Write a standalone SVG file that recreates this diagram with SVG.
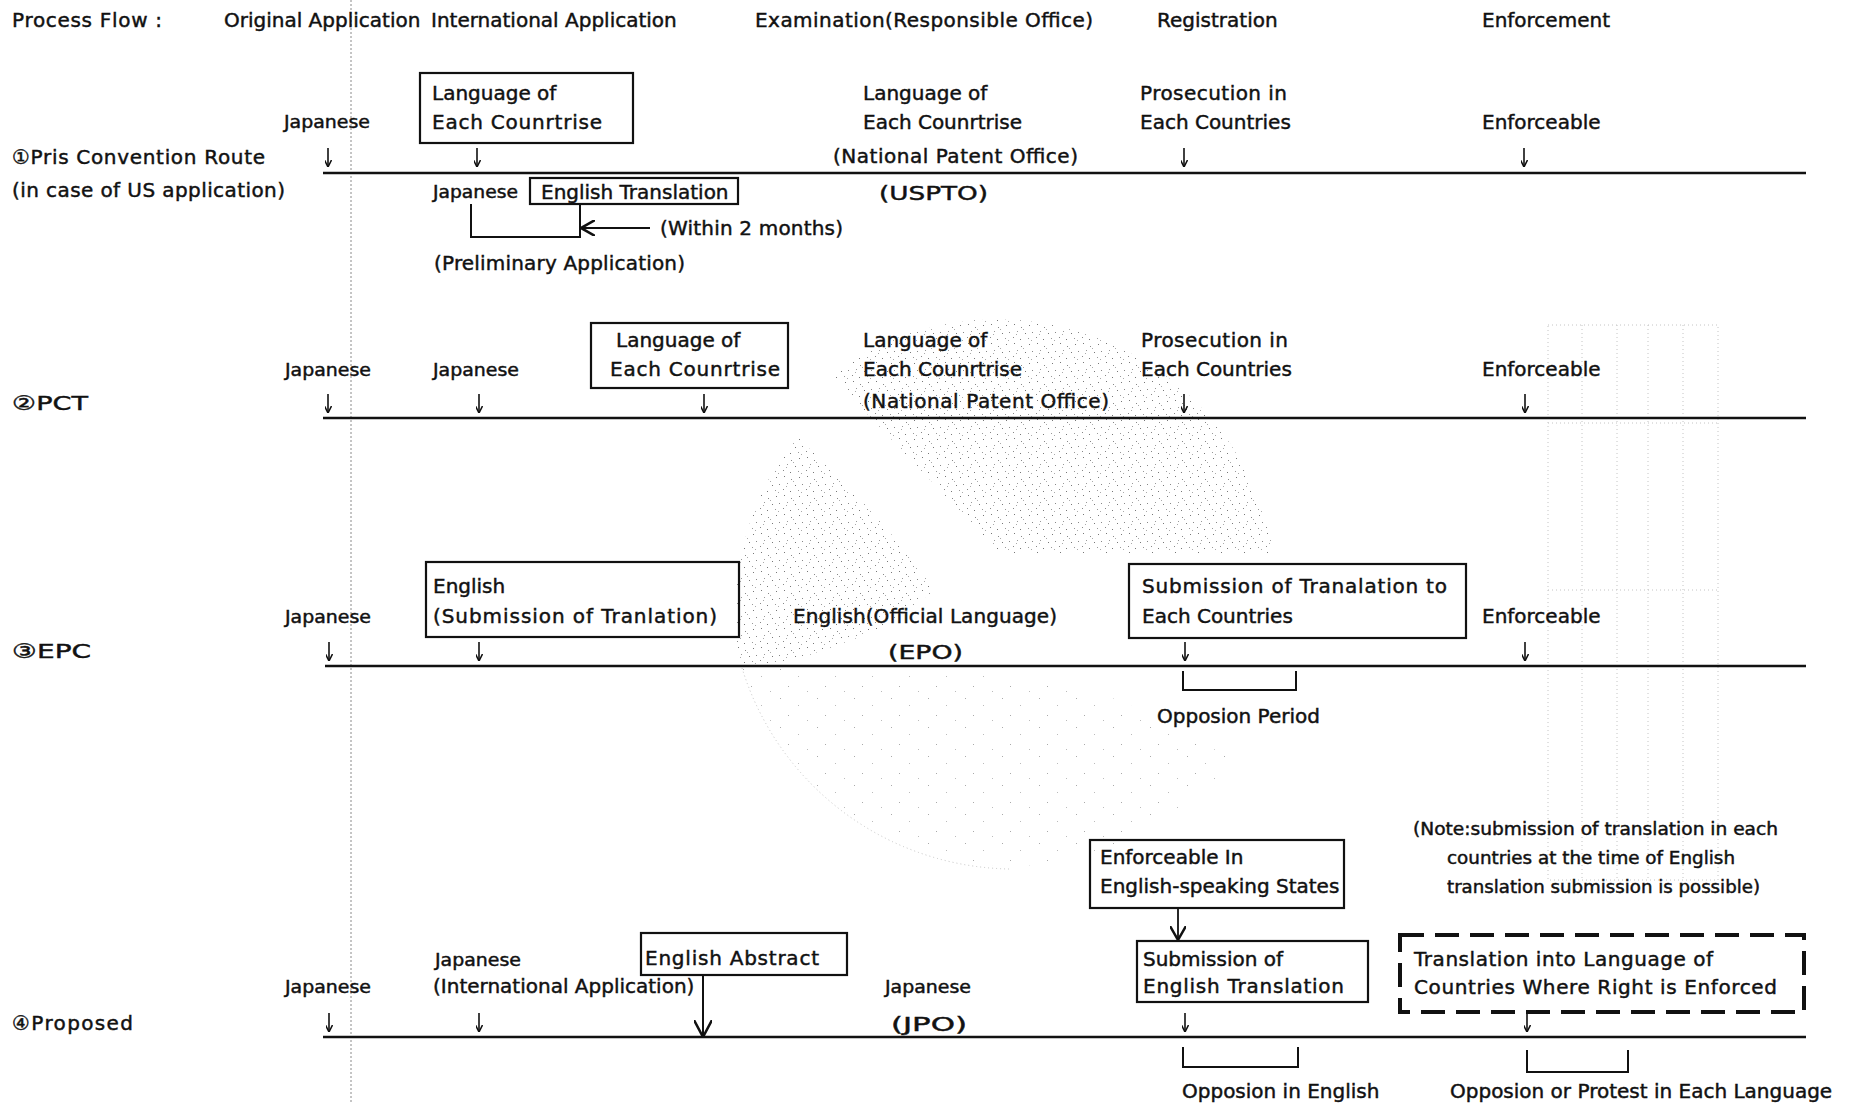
<svg xmlns="http://www.w3.org/2000/svg" width="1856" height="1104" viewBox="0 0 1856 1104">
  <style>
    text { font-family: "DejaVu Sans", "Noto Sans CJK JP", sans-serif; font-size: 20px; fill: #111; stroke: #111; stroke-width: 0.45; }
    .sm { font-size: 17px; }
    .box { fill: none; stroke: #111; stroke-width: 2.2; }
    .dbox { fill: none; stroke: #111; stroke-width: 4; stroke-dasharray: 24 11; }
    .tl { stroke: #111; stroke-width: 2.6; fill: none; }
    .arr { stroke: #111; stroke-width: 1.6; fill: none; marker-end: url(#tip); }
    .arr2 { stroke: #111; stroke-width: 1.8; fill: none; marker-end: url(#tipMid); }
    .arr3 { stroke: #111; stroke-width: 2; fill: none; marker-end: url(#tipBig); }
    .brk { stroke: #111; stroke-width: 2; fill: none; }
    .guide { stroke: #8a8a8a; stroke-width: 1; stroke-dasharray: 2 2; }
    .ghost { fill: none; stroke: #c4c4c4; stroke-width: 1; stroke-dasharray: 1 3; }
  </style>
  <defs>
    <marker id="tip" viewBox="0 0 10 10" refX="10" refY="5" markerWidth="7" markerHeight="7" markerUnits="userSpaceOnUse" orient="auto" preserveAspectRatio="none">
      <path d="M0,0 L10,5 L0,10" fill="none" stroke="#111" stroke-width="2.2"/>
    </marker>
    <marker id="tipMid" viewBox="0 0 10 10" refX="10" refY="5" markerWidth="14" markerHeight="16" markerUnits="userSpaceOnUse" orient="auto" preserveAspectRatio="none">
      <path d="M0,0 L10,5 L0,10" fill="none" stroke="#111" stroke-width="1.6"/>
    </marker>
    <marker id="tipBig" viewBox="0 0 10 10" refX="10" refY="5" markerWidth="17" markerHeight="18" markerUnits="userSpaceOnUse" orient="auto" preserveAspectRatio="none">
      <path d="M0,0 L10,5 L0,10" fill="none" stroke="#111" stroke-width="1.4"/>
    </marker>
    <!-- speckle texture for the faint background print -->
    <pattern id="speckle" width="23" height="19" patternUnits="userSpaceOnUse">
      <rect x="2" y="1" width="1" height="1" fill="#777"/>
      <rect x="9" y="4" width="1" height="1" fill="#888"/>
      <rect x="17" y="2" width="1" height="1" fill="#777"/>
      <rect x="5" y="8" width="1" height="1" fill="#999"/>
      <rect x="13" y="10" width="1" height="1" fill="#777"/>
      <rect x="20" y="9" width="1" height="1" fill="#888"/>
      <rect x="1" y="14" width="1" height="1" fill="#888"/>
      <rect x="8" y="16" width="1" height="1" fill="#777"/>
      <rect x="16" y="15" width="1" height="1" fill="#999"/>
      <rect x="11" y="6" width="1" height="1" fill="#aaa"/>
      <rect x="19" y="17" width="1" height="1" fill="#aaa"/>
      <rect x="4" y="11" width="1" height="1" fill="#aaa"/>
    </pattern>
    <pattern id="speckleLight" width="37" height="29" patternUnits="userSpaceOnUse">
      <rect x="3" y="2" width="1" height="1" fill="#aaa"/>
      <rect x="21" y="9" width="1" height="1" fill="#bbb"/>
      <rect x="11" y="19" width="1" height="1" fill="#aaa"/>
      <rect x="30" y="24" width="1" height="1" fill="#bbb"/>
    </pattern>
  </defs>

  <rect width="1856" height="1104" fill="#fff"/>

  <!-- faint show-through print behind the chart -->
  <g id="background-print">
    <path d="M1000,553 L830,375 A 280 280 0 0 1 1271,540 L1269,553 Z" fill="url(#speckle)"/>
    <path d="M797,436 L880,520 L935,590 L880,630 L790,662 L740,665 A 285 285 0 0 1 797,436 Z" fill="url(#speckle)"/>
    <path d="M742,668 A 285 285 0 0 0 1235,760 L1120,700 L1000,675 Z" fill="url(#speckleLight)"/>
    <path class="ghost" d="M742,668 A 285 285 0 0 0 1010,869"/>
    <rect class="ghost" x="1548" y="325" width="170" height="555"/>
    <line class="ghost" x1="1582" y1="325" x2="1582" y2="880"/>
    <line class="ghost" x1="1617" y1="325" x2="1617" y2="880"/>
    <line class="ghost" x1="1648" y1="325" x2="1648" y2="880"/>
    <line class="ghost" x1="1683" y1="325" x2="1683" y2="880"/>
    <line class="ghost" x1="1548" y1="423" x2="1718" y2="423"/>
    <line class="ghost" x1="1548" y1="590" x2="1718" y2="590"/>
  </g>

  <line class="guide" x1="351" y1="0" x2="351" y2="1104"/>

  <!-- column headings -->
  <g id="header">
    <text x="12" y="27" textLength="150" lengthAdjust="spacing">Process Flow :</text>
    <text x="224" y="27">Original Application</text>
    <text x="431" y="27">International Application</text>
    <text x="755" y="27" textLength="338" lengthAdjust="spacing">Examination(Responsible Office)</text>
    <text x="1157" y="27">Registration</text>
    <text x="1482" y="27">Enforcement</text>
  </g>

  <!-- route 1: Paris Convention -->
  <g id="route1-label">
    <text x="12" y="164" textLength="253" lengthAdjust="spacing">①Pris Convention Route</text>
    <text x="12" y="197" textLength="273" lengthAdjust="spacing">(in case of US application)</text>
  </g>
  <g id="r1-original"><text class="sm" x="284" y="128" textLength="86" lengthAdjust="spacingAndGlyphs">Japanese</text></g>
  <g id="r1-international">
    <rect class="box" x="420" y="73" width="213" height="70"/>
    <text x="432" y="100">Language of</text>
    <text x="432" y="129" textLength="170" lengthAdjust="spacing">Each Counrtrise</text>
  </g>
  <g id="r1-examination">
    <text x="863" y="100">Language of</text>
    <text x="863" y="129">Each Counrtrise</text>
    <text x="833" y="163" textLength="245" lengthAdjust="spacing">(National Patent Office)</text>
    <text x="879" y="200" textLength="109" lengthAdjust="spacingAndGlyphs">(USPTO)</text>
  </g>
  <g id="r1-registration">
    <text x="1140" y="100" textLength="147" lengthAdjust="spacing">Prosecution in</text>
    <text x="1140" y="129">Each Countries</text>
  </g>
  <g id="r1-enforcement"><text x="1482" y="129">Enforceable</text></g>
  <g id="r1-japanese"><text class="sm" x="433" y="198" textLength="85" lengthAdjust="spacingAndGlyphs">Japanese</text></g>
  <g id="r1-translation">
    <rect class="box" x="530" y="178" width="208" height="26"/>
    <text x="541" y="199">English Translation</text>
  </g>
  <g id="r1-within"><text x="660" y="235" textLength="183" lengthAdjust="spacing">(Within 2 months)</text></g>
  <g id="r1-preliminary"><text x="434" y="270" textLength="251" lengthAdjust="spacing">(Preliminary Application)</text></g>

  <!-- route 2: PCT -->
  <g id="route2-label"><text x="12" y="410" textLength="76" lengthAdjust="spacingAndGlyphs">②PCT</text></g>
  <g id="r2-original"><text class="sm" x="285" y="376" textLength="86" lengthAdjust="spacingAndGlyphs">Japanese</text></g>
  <g id="r2-international"><text class="sm" x="433" y="376" textLength="86" lengthAdjust="spacingAndGlyphs">Japanese</text></g>
  <g id="r2-national">
    <rect class="box" x="591" y="323" width="197" height="65"/>
    <text x="616" y="347">Language of</text>
    <text x="610" y="376" textLength="170" lengthAdjust="spacing">Each Counrtrise</text>
  </g>
  <g id="r2-examination">
    <text x="863" y="347">Language of</text>
    <text x="863" y="376">Each Counrtrise</text>
    <text x="863" y="408" textLength="246" lengthAdjust="spacing">(National Patent Office)</text>
  </g>
  <g id="r2-registration">
    <text x="1141" y="347" textLength="147" lengthAdjust="spacing">Prosecution in</text>
    <text x="1141" y="376">Each Countries</text>
  </g>
  <g id="r2-enforcement"><text x="1482" y="376">Enforceable</text></g>

  <!-- route 3: EPC -->
  <g id="route3-label"><text x="12" y="658" textLength="79" lengthAdjust="spacingAndGlyphs">③EPC</text></g>
  <g id="r3-original"><text class="sm" x="285" y="623" textLength="86" lengthAdjust="spacingAndGlyphs">Japanese</text></g>
  <g id="r3-international">
    <rect class="box" x="426" y="562" width="313" height="75"/>
    <text x="433" y="593">English</text>
    <text x="433" y="623" textLength="284" lengthAdjust="spacing">(Submission of Tranlation)</text>
  </g>
  <g id="r3-examination">
    <text x="793" y="623" textLength="264" lengthAdjust="spacing">English(Official Language)</text>
    <text x="888" y="659" textLength="75" lengthAdjust="spacingAndGlyphs">(EPO)</text>
  </g>
  <g id="r3-registration">
    <rect class="box" x="1129" y="564" width="337" height="74"/>
    <text x="1142" y="593" textLength="305" lengthAdjust="spacing">Submission of Tranalation to</text>
    <text x="1142" y="623">Each Countries</text>
  </g>
  <g id="r3-enforcement"><text x="1482" y="623">Enforceable</text></g>
  <g id="r3-opposition"><text x="1157" y="723">Opposion Period</text></g>

  <!-- route 4: proposed -->
  <g id="route4-label"><text x="12" y="1030" textLength="121" lengthAdjust="spacing">④Proposed</text></g>
  <g id="r4-original"><text class="sm" x="285" y="993" textLength="86" lengthAdjust="spacingAndGlyphs">Japanese</text></g>
  <g id="r4-international">
    <text class="sm" x="435" y="966" textLength="86" lengthAdjust="spacingAndGlyphs">Japanese</text>
    <text x="433" y="993">(International Application)</text>
  </g>
  <g id="r4-abstract">
    <rect class="box" x="641" y="933" width="206" height="42"/>
    <text x="645" y="965" textLength="174" lengthAdjust="spacing">English Abstract</text>
  </g>
  <g id="r4-examination">
    <text class="sm" x="885" y="993" textLength="86" lengthAdjust="spacingAndGlyphs">Japanese</text>
    <text x="891" y="1031" textLength="76" lengthAdjust="spacingAndGlyphs">(JPO)</text>
  </g>
  <g id="r4-english-states">
    <rect class="box" x="1090" y="840" width="254" height="68"/>
    <text x="1100" y="864">Enforceable In</text>
    <text x="1100" y="893">English-speaking States</text>
  </g>
  <g id="r4-english-translation">
    <rect class="box" x="1137" y="941" width="231" height="61"/>
    <text x="1143" y="966">Submission of</text>
    <text x="1143" y="993" textLength="201" lengthAdjust="spacing">English Translation</text>
  </g>
  <g id="r4-note">
    <text class="sm" x="1413" y="835" textLength="365" lengthAdjust="spacingAndGlyphs">(Note:submission of translation in each</text>
    <text class="sm" x="1447" y="864" textLength="288" lengthAdjust="spacingAndGlyphs">countries at the time of English</text>
    <text class="sm" x="1447" y="893" textLength="313" lengthAdjust="spacingAndGlyphs">translation submission is possible)</text>
  </g>
  <g id="r4-local-translation">
    <rect class="dbox" x="1400" y="935" width="404" height="77"/>
    <text x="1414" y="966" textLength="299" lengthAdjust="spacing">Translation into Language of</text>
    <text x="1414" y="994" textLength="363" lengthAdjust="spacing">Countries Where Right is Enforced</text>
  </g>
  <g id="r4-opposition-en"><text x="1182" y="1098">Opposion in English</text></g>
  <g id="r4-opposition-local"><text x="1450" y="1098">Opposion or Protest in Each Language</text></g>

  <!-- timelines, arrows and brackets -->
  <g id="connectors">
    <line class="tl" x1="323" y1="173" x2="1806" y2="173"/>
    <line class="tl" x1="323" y1="418" x2="1806" y2="418"/>
    <line class="tl" x1="325" y1="666" x2="1806" y2="666"/>
    <line class="tl" x1="323" y1="1037" x2="1806" y2="1037"/>

    <!-- route 1 -->
    <line class="arr" x1="328" y1="148" x2="328" y2="167"/>
    <line class="arr" x1="477" y1="148" x2="477" y2="167"/>
    <line class="arr" x1="1184" y1="148" x2="1184" y2="167"/>
    <line class="arr" x1="1524" y1="148" x2="1524" y2="167"/>
    <path class="brk" d="M471,204 V237 H580 V204"/>
    <line class="arr2" x1="650" y1="228" x2="581" y2="228"/>

    <!-- route 2 -->
    <line class="arr" x1="328" y1="394" x2="328" y2="413"/>
    <line class="arr" x1="479" y1="394" x2="479" y2="413"/>
    <line class="arr" x1="704" y1="394" x2="704" y2="413"/>
    <line class="arr" x1="1184" y1="394" x2="1184" y2="413"/>
    <line class="arr" x1="1525" y1="394" x2="1525" y2="413"/>

    <!-- route 3 -->
    <line class="arr" x1="329" y1="642" x2="329" y2="661"/>
    <line class="arr" x1="479" y1="642" x2="479" y2="661"/>
    <line class="arr" x1="1185" y1="642" x2="1185" y2="661"/>
    <line class="arr" x1="1525" y1="642" x2="1525" y2="661"/>
    <path class="brk" d="M1183,671 V690 H1296 V671"/>

    <!-- route 4 -->
    <line class="arr" x1="329" y1="1013" x2="329" y2="1032"/>
    <line class="arr" x1="479" y1="1013" x2="479" y2="1032"/>
    <line class="arr3" x1="703" y1="975" x2="703" y2="1037"/>
    <line class="arr2" x1="1178" y1="908" x2="1178" y2="940"/>
    <line class="arr" x1="1185" y1="1013" x2="1185" y2="1032"/>
    <line class="arr" x1="1527" y1="1012" x2="1527" y2="1032"/>
    <path class="brk" d="M1183,1047 V1067 H1298 V1047"/>
    <path class="brk" d="M1527,1050 V1072 H1628 V1050"/>
  </g>
</svg>
